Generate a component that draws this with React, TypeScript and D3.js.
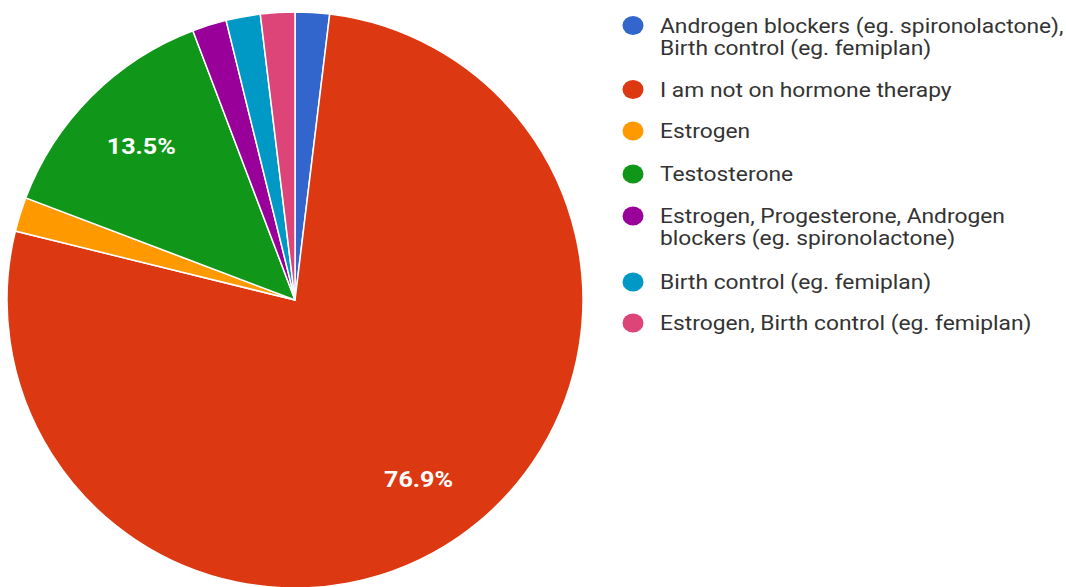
import React from "react";
import * as d3 from "d3";

const categories = [
  "Androgen blockers (eg. spironolactone), Birth control (eg. femiplan)",
  "I am not on hormone therapy",
  "Estrogen",
  "Testosterone",
  "Estrogen, Progesterone, Androgen blockers (eg. spironolactone)",
  "Birth control (eg. femiplan)",
  "Estrogen, Birth control (eg. femiplan)",
];
const legendLines = [
  ["Androgen blockers (eg. spironolactone),", "Birth control (eg. femiplan)"],
  ["I am not on hormone therapy"],
  ["Estrogen"],
  ["Testosterone"],
  ["Estrogen, Progesterone, Androgen", "blockers (eg. spironolactone)"],
  ["Birth control (eg. femiplan)"],
  ["Estrogen, Birth control (eg. femiplan)"],
];
const values = [1, 40, 1, 7, 1, 1, 1];
const colors = ["#3366cc", "#dc3912", "#ff9900", "#109618", "#990099", "#0099c6", "#dd4477"];

export default function App() {
  const W = 1066, H = 587;
  const cx = 295, cy = 300, r = 288;
  const sx = 1.14;
  const total = d3.sum(values);
  const pie = d3.pie<number>().value((d) => d).sort(null).startAngle(0).endAngle(2 * Math.PI);
  const arcs = pie(values);
  const arc = d3.arc<d3.PieArcDatum<number>>().innerRadius(0).outerRadius(r);
  const labelArc = d3.arc<d3.PieArcDatum<number>>().innerRadius(r * 0.755).outerRadius(r * 0.755);
  const font = "Roboto, sans-serif";

  const rowY = [25.5, 89.5, 131, 174, 216, 282, 323];
  return (
    <svg width={W} height={H} style={{ position: "absolute", left: 0, top: 0, background: "#fff" }}>
      <g transform={`translate(${cx},${cy})`}>
        {arcs.map((a, i) => (
          <path key={i} d={arc(a) || ""} fill={colors[i]} stroke="#fff" strokeWidth={1.5} />
        ))}
        {arcs.map((a, i) => {
          const pct = (values[i] / total) * 100;
          if (pct < 5) return null;
          const [x, y] = labelArc.centroid(a);
          return (
            <g key={"l" + i} transform={`translate(${x},${y}) scale(${sx},1)`}>
              <text x={0} y={0} dy="0.36em" textAnchor="middle" fill="#fff"
                fontFamily={font} fontSize={22} fontWeight={700}>
                {pct.toFixed(1)}%
              </text>
            </g>
          );
        })}
      </g>
      <g>
        {categories.map((c, i) => (
          <g key={c} transform={`translate(0,${rowY[i]})`}>
            <ellipse cx={633} cy={0} rx={10.5} ry={9.5} fill={colors[i]} />
            <g transform={`translate(660,0) scale(${sx},1)`}>
              {legendLines[i].map((ln, j) => (
                <text key={j} x={0} y={j * 22.5} dy="0.35em" fill="#333" fontFamily={font} fontSize={20}>
                  {ln}
                </text>
              ))}
            </g>
          </g>
        ))}
      </g>
    </svg>
  );
}
